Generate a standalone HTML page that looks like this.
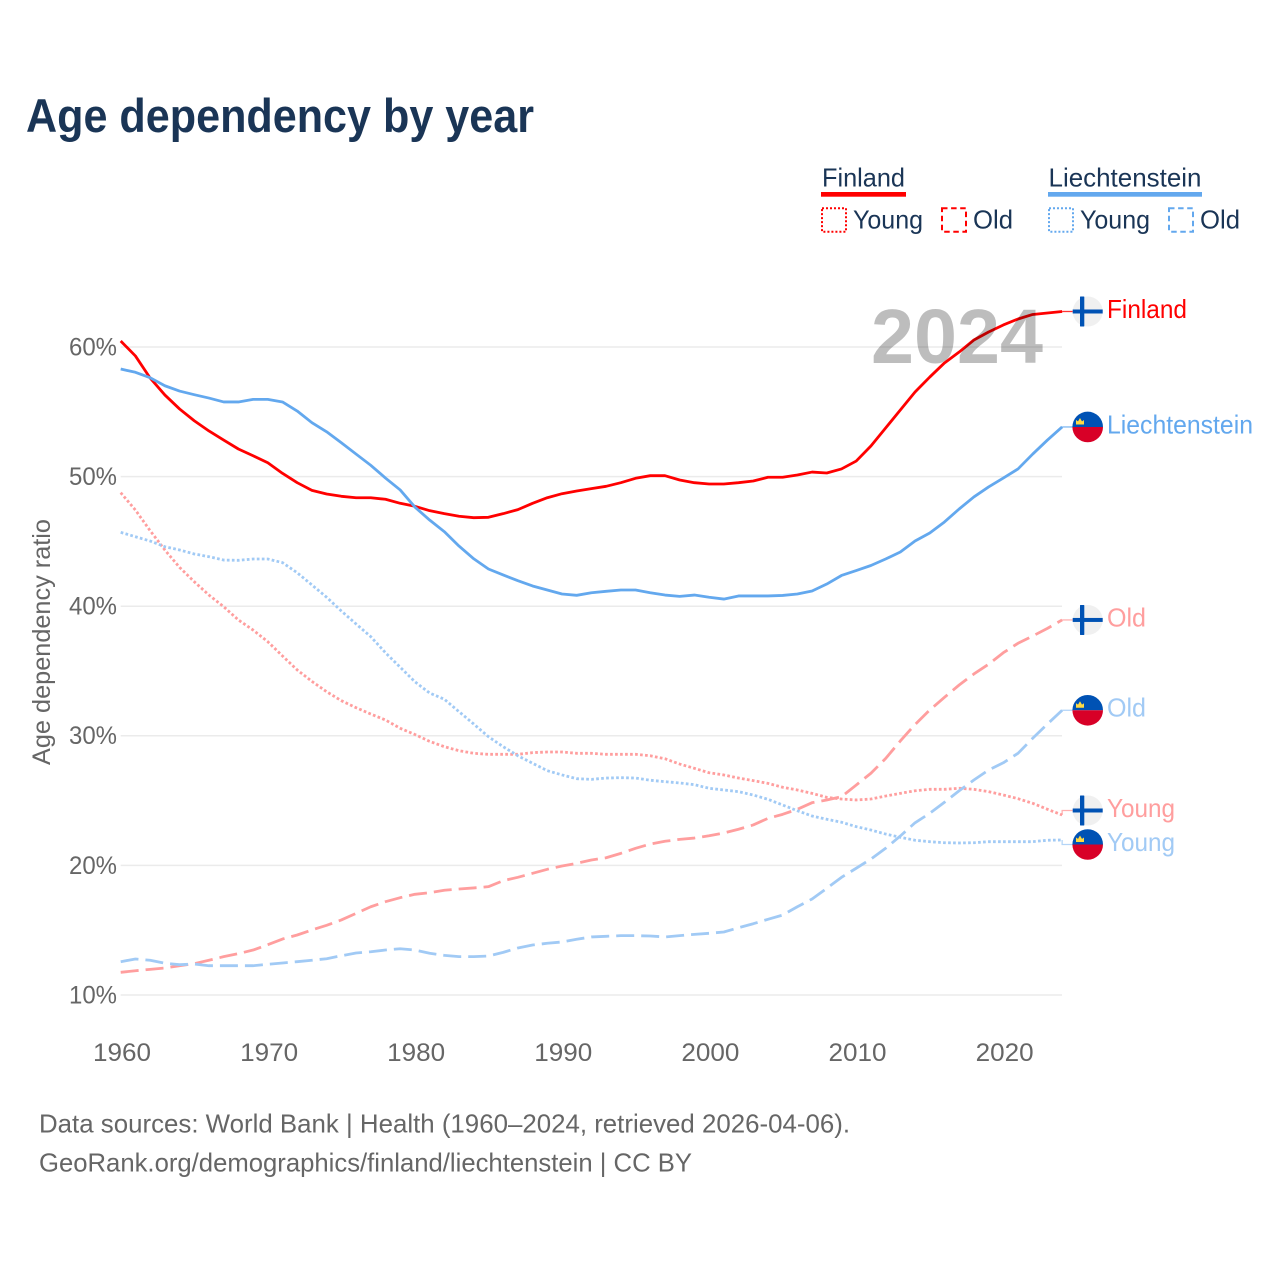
<!DOCTYPE html>
<html lang="en">
<head>
<meta charset="utf-8">
<title>Age dependency by year</title>
<style>
html,body{margin:0;padding:0;background:#fff;}
svg{display:block;font-family:"Liberation Sans",sans-serif;}
</style>
</head>
<body>
<svg id="chart" xmlns="http://www.w3.org/2000/svg" width="1280" height="1280" viewBox="0 0 1280 1280">
  <rect x="0" y="0" width="1280" height="1280" fill="#fff"/>
  <text x="26" y="132" font-size="47" font-weight="700" fill="#1a3556" textLength="508" lengthAdjust="spacingAndGlyphs">Age dependency by year</text>

  <g fill="#1a3556" font-size="26">
    <g>
      <text x="822" y="186.7" textLength="83" lengthAdjust="spacingAndGlyphs">Finland</text>
      <rect x="821" y="192" width="85" height="4.7" fill="#ff0000"/>
      <rect x="822" y="208.3" width="24" height="23.4" fill="none" stroke="#ff0000" stroke-width="2" stroke-dasharray="2 2"/>
      <text x="853" y="228.3" textLength="70" lengthAdjust="spacingAndGlyphs">Young</text>
      <rect x="942" y="208.3" width="24" height="23.4" fill="none" stroke="#ff0000" stroke-width="2" stroke-dasharray="5.5 3.6"/>
      <text x="973" y="228.3" textLength="40" lengthAdjust="spacingAndGlyphs">Old</text>
    </g>
    <g>
      <text x="1048.5" y="186.7" textLength="153" lengthAdjust="spacingAndGlyphs">Liechtenstein</text>
      <rect x="1048" y="192" width="154" height="4.7" fill="#63a8ee"/>
      <rect x="1049" y="208.3" width="24" height="23.4" fill="none" stroke="#63a8ee" stroke-width="2" stroke-dasharray="2 2"/>
      <text x="1080" y="228.3" textLength="70" lengthAdjust="spacingAndGlyphs">Young</text>
      <rect x="1169" y="208.3" width="24" height="23.4" fill="none" stroke="#63a8ee" stroke-width="2" stroke-dasharray="5.5 3.6"/>
      <text x="1200" y="228.3" textLength="40" lengthAdjust="spacingAndGlyphs">Old</text>
    </g>
  </g>

  <g id="grid"></g>
  <g id="y-ticks"></g>
  <g id="x-ticks"></g>
  <text transform="translate(50,642) rotate(-90)" text-anchor="middle" font-size="25" fill="#666" textLength="246" lengthAdjust="spacingAndGlyphs">Age dependency ratio</text>
  <g id="series"></g>
  <g id="end-labels"></g>
  <text id="year-mark" x="871" y="363" font-size="77" font-weight="700" fill="#000" fill-opacity="0.26" textLength="172" lengthAdjust="spacingAndGlyphs">2024</text>

  <g font-size="26" fill="#666">
    <text x="39" y="1132.4" textLength="811" lengthAdjust="spacingAndGlyphs">Data sources: World Bank | Health (1960–2024, retrieved 2026-04-06).</text>
    <text x="39" y="1171.4" textLength="653" lengthAdjust="spacingAndGlyphs">GeoRank.org/demographics/finland/liechtenstein | CC BY</text>
  </g>
</svg>

<script>
var firstYear = 1960;
var yTickValues = [10, 20, 30, 40, 50, 60];
var xTickValues = [1960, 1970, 1980, 1990, 2000, 2010, 2020];

var finlandTotal = [
  60.46,59.31,57.61,56.30,55.22,54.31,53.52,52.82,52.13,51.61,
  51.07,50.25,49.53,48.94,48.66,48.48,48.37,48.37,48.25,47.94,
  47.71,47.37,47.14,46.94,46.83,46.86,47.14,47.45,47.94,48.37,
  48.68,48.89,49.07,49.25,49.53,49.87,50.07,50.07,49.74,49.53,
  49.43,49.43,49.53,49.66,49.95,49.95,50.12,50.35,50.28,50.59,
  51.20,52.36,53.75,55.14,56.53,57.68,58.77,59.61,60.54,61.16,
  61.70,62.16,62.51,62.62,62.74
];
var liechtensteinTotal = [
  58.30,58.05,57.63,57.01,56.60,56.32,56.06,55.76,55.76,55.96,
  55.96,55.76,55.06,54.16,53.46,52.61,51.74,50.87,49.89,48.97,
  47.65,46.65,45.75,44.64,43.66,42.87,42.41,41.97,41.56,41.25,
  40.94,40.84,41.04,41.15,41.25,41.25,41.04,40.86,40.76,40.86,
  40.69,40.55,40.79,40.79,40.79,40.83,40.94,41.17,41.71,42.37,
  42.75,43.14,43.64,44.18,45.03,45.65,46.50,47.50,48.43,49.20,
  49.89,50.59,51.74,52.82,53.83
];
var finlandYoung = [
  48.76,47.42,45.83,44.34,43.00,41.89,40.86,39.96,38.94,38.16,
  37.26,36.16,35.08,34.20,33.40,32.71,32.17,31.68,31.22,30.58,
  30.10,29.57,29.16,28.85,28.65,28.57,28.57,28.57,28.70,28.75,
  28.75,28.65,28.65,28.57,28.57,28.57,28.46,28.23,27.82,27.49,
  27.15,26.98,26.74,26.54,26.33,26.03,25.82,25.56,25.25,25.12,
  25.05,25.12,25.35,25.56,25.76,25.87,25.87,25.95,25.87,25.69,
  25.43,25.15,24.79,24.33,23.89
];
var liechtensteinYoung = [
  45.70,45.36,45.03,44.59,44.34,44.03,43.82,43.56,43.54,43.64,
  43.64,43.36,42.58,41.64,40.69,39.63,38.63,37.65,36.41,35.29,
  34.17,33.30,32.82,31.86,30.91,29.93,29.16,28.46,27.88,27.31,
  26.98,26.69,26.64,26.74,26.77,26.74,26.57,26.46,26.36,26.23,
  25.95,25.82,25.69,25.43,25.10,24.66,24.22,23.81,23.56,23.33,
  22.99,22.73,22.42,22.17,21.94,21.83,21.75,21.73,21.75,21.83,
  21.83,21.83,21.83,21.94,21.96
];
var finlandOld = [
  11.75,11.87,11.98,12.08,12.26,12.42,12.68,12.96,13.19,13.47,
  13.88,14.32,14.63,15.02,15.38,15.79,16.30,16.81,17.20,17.51,
  17.77,17.89,18.08,18.18,18.26,18.36,18.82,19.08,19.39,19.70,
  19.95,20.16,20.42,20.59,20.93,21.32,21.65,21.86,22.01,22.11,
  22.29,22.50,22.79,23.12,23.63,23.94,24.33,24.84,25.05,25.30,
  26.20,27.11,28.25,29.60,30.87,31.99,32.97,33.92,34.77,35.52,
  36.41,37.14,37.70,38.29,38.94
];
var liechtensteinOld = [
  12.57,12.78,12.68,12.45,12.34,12.39,12.26,12.26,12.26,12.26,
  12.37,12.47,12.57,12.68,12.80,13.03,13.24,13.34,13.47,13.57,
  13.47,13.22,13.06,12.96,12.96,13.01,13.29,13.63,13.86,13.99,
  14.09,14.30,14.48,14.53,14.58,14.58,14.55,14.48,14.58,14.68,
  14.76,14.86,15.19,15.50,15.84,16.17,16.81,17.41,18.23,19.08,
  19.78,20.49,21.32,22.27,23.29,24.02,24.87,25.76,26.59,27.36,
  27.92,28.65,29.81,30.91,31.97
];

var SVGNS = 'http://www.w3.org/2000/svg';
function xScale(year) { return 120.7 + (year - firstYear) * 14.71; }
function yScale(v) { return 995 - (v - 10) * 12.96; }
function make(tag, parent, attrs, content) {
  var el = document.createElementNS(SVGNS, tag);
  for (var k in attrs) { el.setAttribute(k, attrs[k]); }
  if (content !== undefined) { el.textContent = content; }
  parent.appendChild(el);
  return el;
}

var gridG = document.getElementById('grid');
var yTickG = document.getElementById('y-ticks');
yTickValues.forEach(function (v) {
  var line = make('line', gridG, { x1: 120.7, x2: 1062, y1: yScale(v), y2: yScale(v), stroke: '#ebebeb', 'stroke-width': 1.5 });
  
  
  var label = make('text', yTickG, { x: 69, y: yScale(v) + 8.4, 'font-size': 25, fill: '#666', textLength: 48, lengthAdjust: 'spacingAndGlyphs' }, v + '%');
  
  
});

var xTickG = document.getElementById('x-ticks');
xTickValues.forEach(function (yr) {
  var label = make('text', xTickG, { x: xScale(yr) - 27.7, y: 1060.8, 'font-size': 25, fill: '#666', textLength: 58, lengthAdjust: 'spacingAndGlyphs' }, String(yr));
  
  
});

var DOT = '2.7 2.3';
var DASH = '18 7';
var seriesDefs = [
  { key: 'finland-young', data: finlandYoung, color: '#ff9e9e', dash: DOT, label: 'Young', labelW: 68, flag: 'fi' },
  { key: 'finland-old', data: finlandOld, color: '#ff9e9e', dash: DASH, label: 'Old', labelW: 39, flag: 'fi' },
  { key: 'finland-total', data: finlandTotal, color: '#ff0000', dash: null, label: 'Finland', labelW: 80, flag: 'fi' },
  { key: 'liechtenstein-young', data: liechtensteinYoung, color: '#a1caf5', dash: DOT, label: 'Young', labelW: 68, flag: 'li' },
  { key: 'liechtenstein-old', data: liechtensteinOld, color: '#a1caf5', dash: DASH, label: 'Old', labelW: 39, flag: 'li' },
  { key: 'liechtenstein-total', data: liechtensteinTotal, color: '#63a8ee', dash: null, label: 'Liechtenstein', labelW: 146, flag: 'li' }
];

var seriesG = document.getElementById('series');
seriesDefs.forEach(function (s) {
  var pts = s.data.map(function (v, i) {
    return xScale(firstYear + i).toFixed(2) + ',' + yScale(v).toFixed(2);
  }).join(' ');
  var attrs = { points: pts, fill: 'none', stroke: s.color, 'stroke-width': 2.8, 'stroke-linejoin': 'round' };
  if (s.dash) { attrs['stroke-dasharray'] = s.dash; }
  var line = make('polyline', seriesG, attrs);
  
  
});

/* End labels: sit at each series' last value, pushed apart when closer than a flag */
var minGap = 34;
var ends = seriesDefs.map(function (s) {
  var yEnd = yScale(s.data[s.data.length - 1]);
  return { s: s, yEnd: yEnd, y: yEnd };
}).sort(function (a, b) { return a.yEnd - b.yEnd; });
for (var i = 1; i < ends.length; i++) {
  var gap = ends[i].y - ends[i - 1].y;
  if (gap < minGap) {
    var shift = (minGap - gap) / 2;
    ends[i - 1].y -= shift;
    ends[i].y += shift;
  }
}

var endG = document.getElementById('end-labels');
var xEnd = xScale(firstYear + finlandTotal.length - 1);
var cx = 1087.7;
ends.forEach(function (e) {
  var s = e.s;
  var conn = make('polyline', endG, {
    points: xEnd + ',' + e.yEnd.toFixed(2) + ' ' + xEnd + ',' + e.y.toFixed(2) + ' ' + (cx - 15) + ',' + e.y.toFixed(2),
    fill: 'none', stroke: s.color, 'stroke-width': 1.3, 'stroke-opacity': 0.8
  });
  
  

  var flag = make('g', endG, { transform: 'translate(' + cx + ',' + e.y.toFixed(2) + ')' });
  
  
  if (s.flag === 'fi') {
    make('circle', flag, { cx: 0, cy: 0, r: 15, fill: '#f0f0f0' });
    make('rect', flag, { x: -15, y: -2, width: 30, height: 4, fill: '#0052b4' });
    make('rect', flag, { x: -7.7, y: -15, width: 4.3, height: 30, fill: '#0052b4', rx: 0.5 });
  } else {
    make('path', flag, { d: 'M-15.3,0 A15.3,15.3 0 0 1 15.3,0 Z', fill: '#0052b4' });
    make('path', flag, { d: 'M-15.3,0 A15.3,15.3 0 0 0 15.3,0 Z', fill: '#d80027' });
    make('path', flag, { d: 'M-11.7,-2.5 L-11.7,-7 L-9.7,-5.6 L-7.7,-9 L-5.7,-5.6 L-3.7,-7 L-3.7,-2.5 Z', fill: '#ffda44' });
  }

  var label = make('text', endG, {
    x: 1107, y: (e.y + 6.4).toFixed(2), 'font-size': 26, fill: s.color,
    textLength: s.labelW, lengthAdjust: 'spacingAndGlyphs'
  }, s.label);
  
  
});
</script>
</body>
</html>
